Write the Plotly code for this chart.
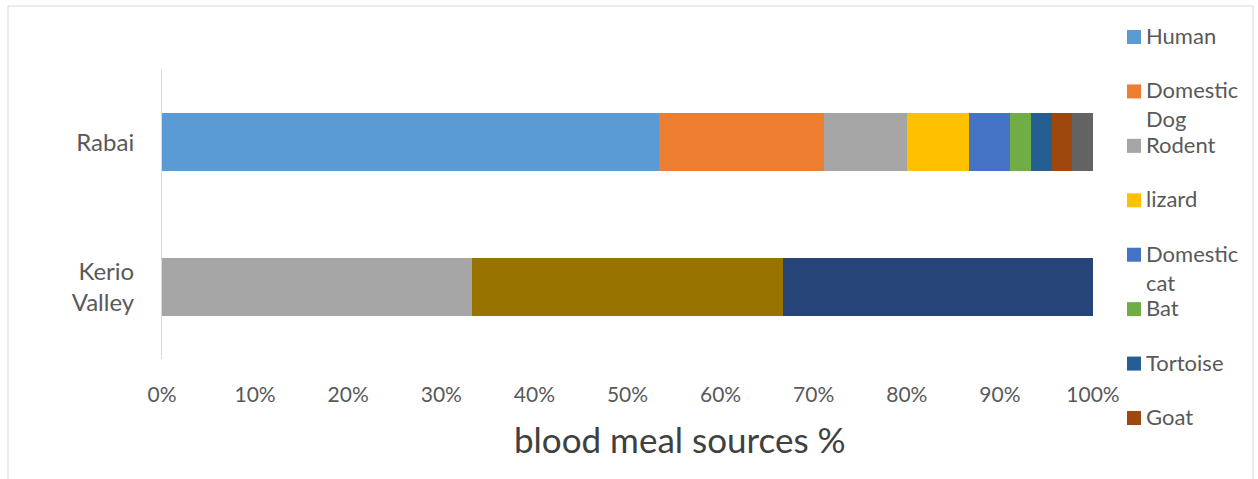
import plotly.graph_objects as go

# Sites (top to bottom) and blood-meal host series, in percent of fed mosquitoes
sites = ["Rabai", "Kerio<br>Valley"]
hosts = ["Human", "Domestic Dog", "Rodent", "lizard", "Domestic cat", "Bat",
         "Tortoise", "Goat", "Other A", "Other B", "Other C"]
legend_labels = ["Human", "Domestic<br>Dog", "Rodent", "lizard", "Domestic<br>cat",
                 "Bat", "Tortoise", "Goat"]
colors = ["#5B9BD5", "#ED7D31", "#A5A5A5", "#FFC000", "#4472C4", "#70AD47",
          "#255E91", "#9E480E", "#636363", "#997300", "#264478"]

rabai = [53.33, 17.78, 8.89, 6.67, 4.44, 2.22, 2.22, 2.22, 2.22, 0, 0]
kerio = [0, 0, 33.33, 0, 0, 0, 0, 0, 0, 33.33, 33.34]

x_ticks = list(range(0, 101, 10))
x_tick_text = [f"{v}%" for v in x_ticks]

W, H = 1258, 479
ML, MR, MT, MB = 162, 165, 70, 120
PW, PH = W - ML - MR, H - MT - MB

TEXT = "#595959"
FONT = "Lato"

fig = go.Figure()
for i, host in enumerate(hosts):
    fig.add_trace(go.Bar(
        y=sites, x=[rabai[i], kerio[i]], name=host, orientation="h",
        marker=dict(color=colors[i], line=dict(width=0)),
        showlegend=False,
    ))


def px_x(px):
    return (px - ML) / PW


def px_y(py):
    return (H - MB - py) / PH


shapes = [
    # outer chart frame
    dict(type="rect", xref="paper", yref="paper",
         x0=px_x(8), x1=px_x(1253), y0=px_y(490), y1=px_y(6),
         line=dict(color="#D9D9D9", width=1), fillcolor="rgba(0,0,0,0)", layer="below"),
]
annotations = []

# legend: one square + label per visible host, evenly spaced
leg_top, leg_step = 37, 54.43
for i, lab in enumerate(legend_labels):
    cy = leg_top + i * leg_step
    shapes.append(dict(type="rect", xref="paper", yref="paper",
                       x0=px_x(1127), x1=px_x(1141), y0=px_y(cy + 7), y1=px_y(cy - 7),
                       fillcolor=colors[i], line=dict(width=0)))
    annotations.append(dict(xref="paper", yref="paper", x=px_x(1144), y=px_y(cy - 17),
                            text=lab, showarrow=False, xanchor="left", yanchor="top",
                            align="left", font=dict(family=FONT, size=22, color=TEXT)))

# axis title
annotations.append(dict(xref="paper", yref="paper", x=px_x(680), y=px_y(439),
                        text="blood meal sources %", showarrow=False,
                        xanchor="center", yanchor="middle",
                        font=dict(family=FONT, size=35, color="#404040")))

fig.update_layout(
    width=W, height=H,
    margin=dict(l=ML, r=MR, t=MT, b=MB, pad=0),
    barmode="stack", bargap=0.6,
    paper_bgcolor="white", plot_bgcolor="white",
    font=dict(family=FONT, color=TEXT),
    xaxis=dict(range=[0, 100], tickvals=x_ticks, ticktext=x_tick_text,
               showgrid=False, zeroline=False, showline=False, ticks="",
               ticklabelstandoff=21, tickfont=dict(size=21, color=TEXT)),
    yaxis=dict(autorange="reversed", showgrid=False, zeroline=False,
               showline=True, linecolor="#D9D9D9", linewidth=1, ticks="",
               ticklabelstandoff=22, tickfont=dict(size=24, color=TEXT)),
    shapes=shapes, annotations=annotations,
)

fig.write_html("out.html")
